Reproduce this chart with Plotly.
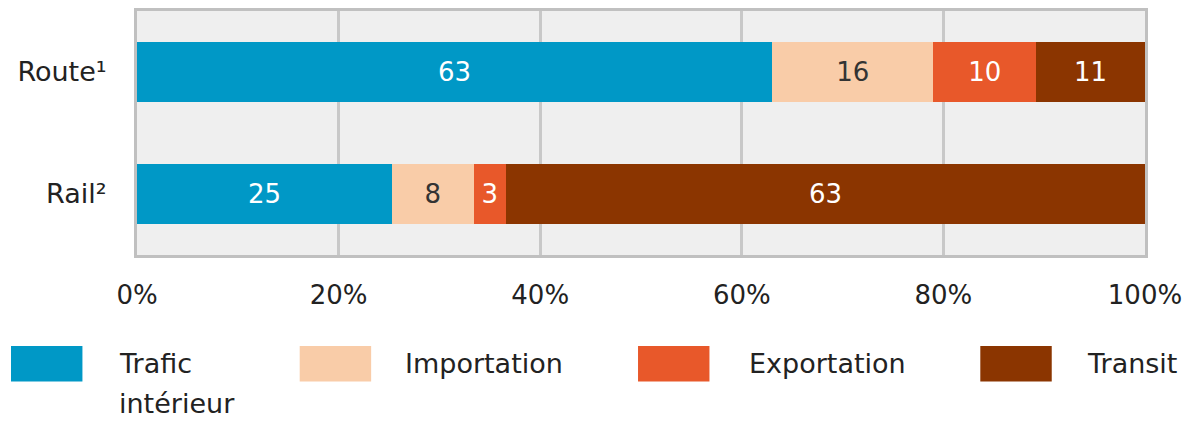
import plotly.graph_objects as go

categories = ["Route¹", "Rail²"]
series_names = ["Trafic<br>intérieur", "Importation", "Exportation", "Transit"]
series_values = [
    [63.0, 25.3],   # Trafic intérieur
    [16.0, 8.1],    # Importation
    [10.2, 3.2],    # Exportation
    [10.8, 63.4],   # Transit
]
series_labels = [
    ["63", "25"],
    ["16", "8"],
    ["10", "3"],
    ["11", "63"],
]
x_ticks = [0, 20, 40, 60, 80, 100]
x_tick_labels = ["0%", "20%", "40%", "60%", "80%", "100%"]

colors = ["#0098c6", "#f9cca8", "#e8582a", "#8b3500"]
text_colors = ["#ffffff", "#333333", "#ffffff", "#ffffff"]

FONT = "DejaVu Sans"
W, H = 1190, 421
ML, MT = 137, 8
MR = W - 1153
MB = H - 255

fig = go.Figure()
for name, vals, labels, col, tcol in zip(series_names, series_values, series_labels, colors, text_colors):
    fig.add_trace(go.Bar(
        y=categories, x=vals, orientation="h", name=name,
        marker=dict(color=col, line=dict(width=0)),
        text=labels, textposition="inside", insidetextanchor="middle",
        textangle=0, textfont=dict(color=tcol, size=26, family=FONT),
        width=0.49, showlegend=False, hoverinfo="skip",
    ))

# custom legend (large swatches), positions given in page pixels
pw = W - ML - MR
ph = H - MT - MB
def px_to_paper_x(px):
    return (px - ML) / pw
def px_to_paper_y(py):
    return (H - MB - py) / ph

sw_left = [10, 301, 642, 987]
txt_left = [117, 405, 752, 1093]
sw_w, sw_top, sw_bot = 72, 347, 383
shapes = []
annotations = []
for i, name in enumerate(series_names):
    shapes.append(dict(type="rect", xref="paper", yref="paper",
                       x0=px_to_paper_x(sw_left[i]), x1=px_to_paper_x(sw_left[i] + sw_w),
                       y0=px_to_paper_y(sw_bot), y1=px_to_paper_y(sw_top),
                       fillcolor=colors[i], line=dict(width=0), layer="above"))
    for j, line in enumerate(name.split("<br>")):
        annotations.append(dict(xref="paper", yref="paper",
                                x=px_to_paper_x(txt_left[i]), y=px_to_paper_y(365 + 40 * j),
                                xanchor="left", yanchor="middle", showarrow=False,
                                text=line, font=dict(size=27, color="#222222", family=FONT)))

fig.update_layout(
    barmode="stack",
    width=W, height=H,
    margin=dict(l=ML, r=MR, t=MT, b=MB),
    paper_bgcolor="white", plot_bgcolor="#efefef",
    font=dict(family=FONT, size=26, color="#222222"),
    shapes=shapes, annotations=annotations,
    uniformtext=dict(minsize=26, mode="show"),
)
fig.update_xaxes(
    range=[0, 100], tickvals=x_ticks, ticktext=x_tick_labels,
    showgrid=True, gridcolor="#c8c8c8", gridwidth=3,
    zeroline=False, showline=True, mirror=True, linecolor="#c0c0c0", linewidth=3,
    ticks="", ticklabelstandoff=15, ticklabeloverflow="allow",
    tickfont=dict(size=26, color="#222222"),
)
fig.update_yaxes(
    autorange="reversed", showgrid=False, zeroline=False,
    showline=True, mirror=True, linecolor="#c0c0c0", linewidth=3,
    ticks="", ticklabelstandoff=22, tickfont=dict(size=27, color="#222222"),
)

post = (
    "document.documentElement.style.margin='0';"
    "document.documentElement.style.padding='0';"
    "document.documentElement.style.overflow='hidden';"
    "document.documentElement.style.height='421px';"
    "document.body.style.margin='0';"
    "document.body.style.padding='0';"
    "document.body.style.overflow='hidden';"
    "document.body.style.height='421px';"
    "var d=document.getElementById('{plot_id}');"
    "d.parentElement.style.height='421px';"
    "d.parentElement.style.overflow='hidden';"
)

fig.write_html("out.html", config={"displayModeBar": False}, post_script=post)
